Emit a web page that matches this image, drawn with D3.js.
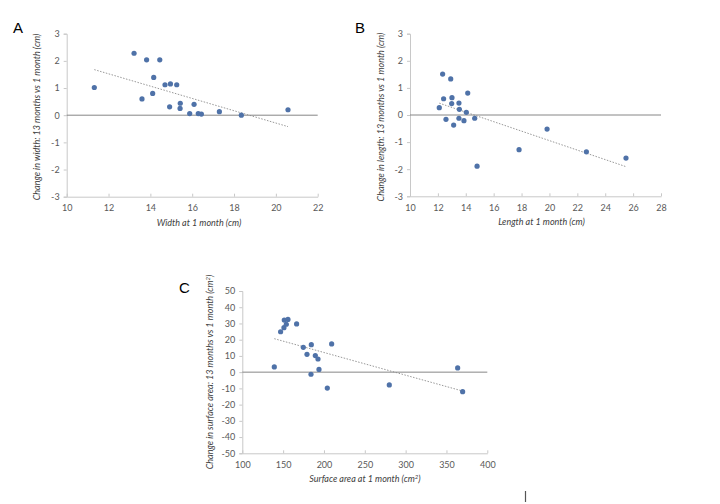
<!DOCTYPE html>
<html><head><meta charset="utf-8">
<script src="https://cdn.jsdelivr.net/npm/d3@7"></script>
<style>body{margin:0;background:#fff;} svg{display:block;}</style>
</head><body>
<svg id="c" width="720" height="504"></svg>
<script>
// Panel A: width
const widthX = [11.32,13.22,13.82,14.45,14.16,13.60,14.11,14.70,14.96,15.26,14.92,15.43,15.42,15.88,16.09,16.29,16.44,17.30,18.35,20.58];
const widthY = [1.02,2.28,2.04,2.04,1.39,0.60,0.80,1.12,1.15,1.12,0.31,0.44,0.25,0.06,0.40,0.06,0.04,0.13,0.00,0.20];
// Panel B: length
const lengthX = [12.10,12.34,12.41,12.58,12.92,13.01,12.99,13.13,13.51,13.54,13.51,13.87,14.04,14.14,14.64,14.81,17.82,19.83,22.65,25.49];
const lengthY = [0.27,1.51,0.60,-0.16,1.33,0.64,0.42,-0.37,0.44,0.21,-0.12,-0.21,0.10,0.81,-0.12,-1.89,-1.28,-0.52,-1.36,-1.59];
// Panel C: surface area
const areaX = [139.2,146.9,151.0,151.4,153.9,155.9,166.5,174.7,179.2,184.5,184.1,189.4,192.7,193.9,204.1,209.4,280.0,363.7,369.8];
const areaY = [3.2,24.9,27.4,32.1,29.5,32.5,29.7,15.3,11.0,16.9,-1.3,10.2,8.1,1.7,-9.8,17.4,-7.9,2.6,-12.0];

const ticksA_X = [10,12,14,16,18,20,22], ticksA_Y = [-3,-2,-1,0,1,2,3];
const ticksB_X = [10,12,14,16,18,20,22,24,26,28], ticksB_Y = [-3,-2,-1,0,1,2,3];
const ticksC_X = [100,150,200,250,300,350,400], ticksC_Y = [-50,-40,-30,-20,-10,0,10,20,30,40,50];

const svg = d3.select("#c");
const FONT = "Lato, 'Open Sans', sans-serif";
const fmt = d => String(d);

function panel(cfg){
  const g = svg.append("g");
  const x = d3.scaleLinear().domain(cfg.xd).range([cfg.x0, cfg.x1]);
  const y = d3.scaleLinear().domain(cfg.yd).range([cfg.y1, cfg.y0]);
  const ya = g.append("g").attr("transform", `translate(${cfg.x0},0)`)
    .call(d3.axisLeft(y).tickValues(cfg.yt).tickSize(3).tickPadding(4).tickFormat(fmt));
  const xa = g.append("g").attr("transform", `translate(0,${cfg.y1})`)
    .call(d3.axisBottom(x).tickValues(cfg.xt).tickSizeInner(-3).tickSizeOuter(0).tickPadding(8).tickFormat(fmt));
  [ya, xa].forEach(a => {
    a.select(".domain").attr("stroke", "#c8c8c8");
    a.selectAll(".tick line").attr("stroke", "#c8c8c8");
    a.selectAll("text").attr("fill", "#595959").style("font-family", FONT).style("font-size", "9px");
  });
  g.append("line").attr("x1", cfg.x0).attr("x2", cfg.x1).attr("y1", y(0)).attr("y2", y(0))
    .attr("stroke", "#868686").attr("stroke-width", 1);
  const n = cfg.xs.length, mx = d3.mean(cfg.xs), my = d3.mean(cfg.ys);
  let sxy = 0, sxx = 0;
  for (let i=0;i<n;i++){ sxy += (cfg.xs[i]-mx)*(cfg.ys[i]-my); sxx += (cfg.xs[i]-mx)**2; }
  const b = sxy/sxx, a0 = my - b*mx;
  const xmin = d3.min(cfg.xs), xmax = d3.max(cfg.xs);
  g.append("line").attr("x1", x(xmin)).attr("x2", x(xmax)).attr("y1", y(a0+b*xmin)).attr("y2", y(a0+b*xmax))
    .attr("stroke", "#8c8c8c").attr("stroke-width", 0.9).attr("stroke-dasharray", "1.5,1.5");
  g.selectAll("circle.p").data(cfg.xs.map((v,i)=>[v,cfg.ys[i]])).join("circle")
    .attr("cx", d=>x(d[0])).attr("cy", d=>y(d[1])).attr("r", 2.6).attr("fill", "#4f72a8");
  const xt = g.append("text").attr("x", cfg.xtx).attr("y", cfg.y1 + 29).attr("text-anchor","middle")
    .style("font-family", FONT).style("font-size","9px").style("font-style","italic").attr("fill","#404040");
  xt.text(cfg.xtitle);
  if (cfg.xsup) { xt.append("tspan").attr("baseline-shift","super").style("font-size","6px").text(cfg.xsup); xt.append("tspan").text(")"); }
  const yt = g.append("text").attr("transform", `translate(${cfg.ytx},${cfg.yty}) rotate(-90)`).attr("text-anchor","middle")
    .style("font-family", FONT).style("font-size","9px").style("font-style","italic").attr("fill","#404040");
  yt.text(cfg.ytitle);
  if (cfg.ysup) { yt.append("tspan").attr("baseline-shift","super").style("font-size","6px").text(cfg.ysup); yt.append("tspan").text(")"); }
  g.append("text").attr("x", cfg.lx).attr("y", cfg.ly).style("font-family","'Liberation Sans', Arial, sans-serif")
    .style("font-size","15px").attr("fill","#000").text(cfg.letter);
}

panel({xs: widthX, ys: widthY, xd:[10,22], yd:[-3,3], xt: ticksA_X, yt: ticksA_Y,
  x0:66.7, x1:317.7, y0:33.7, y1:196.7, xtx:199, ytx:40, yty:117,
  xtitle:"Width at 1 month (cm)", ytitle:"Change in width: 13 months vs 1 month (cm)", letter:"A", lx:13, ly:33});
panel({xs: lengthX, ys: lengthY, xd:[10,28], yd:[-3,3], xt: ticksB_X, yt: ticksB_Y,
  x0:410, x1:661, y0:33.7, y1:196.3, xtx:541.5, ytx:383.5, yty:117,
  xtitle:"Length at 1 month (cm)", ytitle:"Change in length: 13 months vs 1 month (cm)", letter:"B", lx:355, ly:33});
panel({xs: areaX, ys: areaY, xd:[100,400], yd:[-50,50], xt: ticksC_X, yt: ticksC_Y,
  x0:242.3, x1:487.3, y0:291, y1:453.3, xtx:365, ytx:212.5, yty:372,
  xtitle:"Surface area at 1 month (cm", xsup:"2", ytitle:"Change in surface area: 13 months vs 1 month (cm", ysup:"2", letter:"C", lx:179, ly:293});

svg.append("line").attr("x1",525.5).attr("x2",525.5).attr("y1",491).attr("y2",502).attr("stroke","#555").attr("stroke-width",1.2);
</script>
</body></html>
